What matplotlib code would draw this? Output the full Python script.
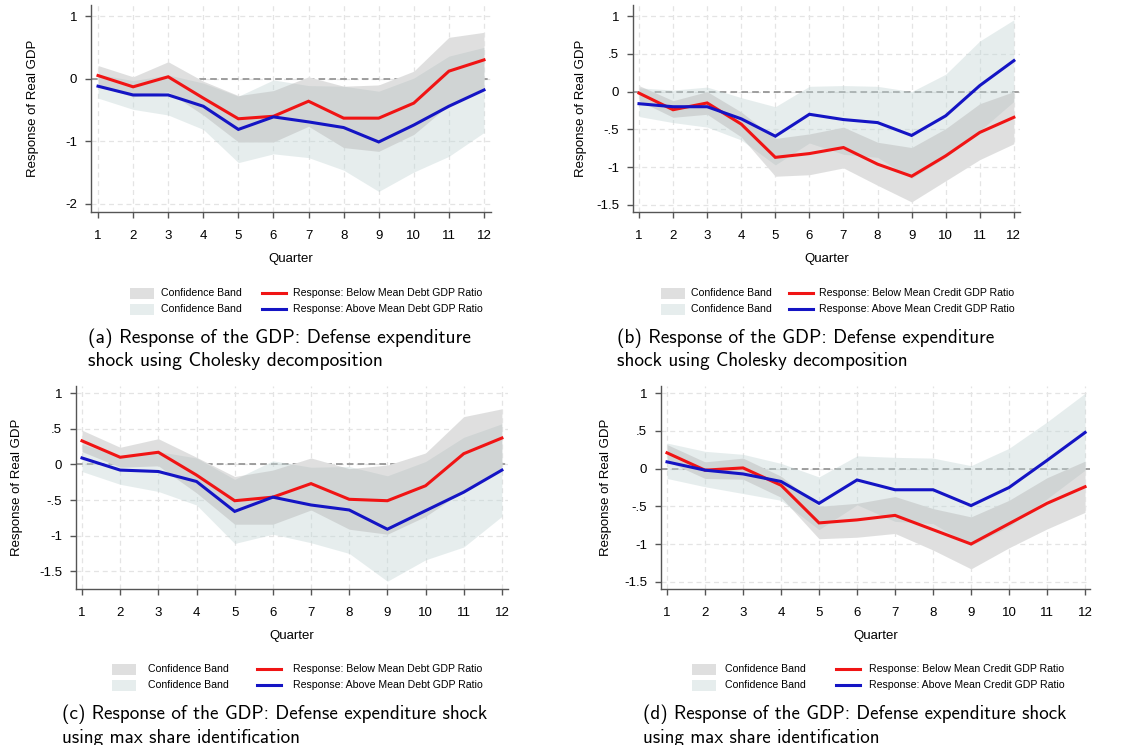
import matplotlib
matplotlib.use("Agg")
import matplotlib.pyplot as plt
from matplotlib.patches import Rectangle
from matplotlib.lines import Line2D
import numpy as np

quarters = np.arange(1, 13)

# (a) debt split, Cholesky
a_below = [0.05, -0.13, 0.03, -0.31, -0.64, -0.60, -0.36, -0.63, -0.63, -0.39, 0.12, 0.30]
a_above = [-0.12, -0.26, -0.26, -0.44, -0.81, -0.61, -0.69, -0.78, -1.01, -0.74, -0.44, -0.18]
a_below_hi = [0.21, 0.03, 0.27, -0.04, -0.27, -0.19, 0.03, -0.12, -0.10, 0.12, 0.66, 0.74]
a_below_lo = [-0.11, -0.29, -0.21, -0.58, -1.01, -1.01, -0.76, -1.10, -1.16, -0.89, -0.42, -0.14]
a_above_hi = [0.07, -0.03, 0.06, -0.07, -0.28, -0.02, -0.11, -0.12, -0.20, 0.01, 0.36, 0.50]
a_above_lo = [-0.31, -0.49, -0.58, -0.81, -1.34, -1.20, -1.26, -1.46, -1.80, -1.49, -1.24, -0.86]

# (b) credit split, Cholesky
b_below = [-0.02, -0.24, -0.15, -0.43, -0.87, -0.82, -0.74, -0.96, -1.12, -0.85, -0.54, -0.34]
b_above = [-0.16, -0.20, -0.20, -0.36, -0.59, -0.30, -0.37, -0.41, -0.58, -0.32, 0.08, 0.41]
b_below_hi = [0.08, -0.12, 0.00, -0.27, -0.62, -0.56, -0.47, -0.67, -0.74, -0.49, -0.16, 0.00]
b_below_lo = [-0.12, -0.34, -0.30, -0.60, -1.12, -1.10, -1.01, -1.24, -1.46, -1.18, -0.90, -0.69]
b_above_hi = [0.05, 0.02, 0.06, -0.08, -0.20, 0.07, 0.08, 0.07, 0.00, 0.23, 0.67, 0.95]
b_above_lo = [-0.33, -0.41, -0.47, -0.64, -0.97, -0.68, -0.83, -0.87, -1.15, -0.87, -0.52, -0.13]

# (c) debt split, max share
c_below = [0.33, 0.10, 0.17, -0.15, -0.51, -0.46, -0.27, -0.49, -0.51, -0.30, 0.15, 0.37]
c_above = [0.09, -0.08, -0.10, -0.24, -0.66, -0.46, -0.57, -0.64, -0.91, -0.65, -0.39, -0.08]
c_below_hi = [0.48, 0.24, 0.36, 0.10, -0.17, -0.08, 0.09, -0.06, -0.01, 0.16, 0.67, 0.78]
c_below_lo = [0.18, -0.04, -0.02, -0.40, -0.84, -0.84, -0.64, -0.91, -0.98, -0.73, -0.37, -0.04]
c_above_hi = [0.28, 0.12, 0.18, 0.09, -0.21, 0.05, -0.04, -0.03, -0.16, 0.04, 0.38, 0.57]
c_above_lo = [-0.10, -0.28, -0.38, -0.57, -1.11, -0.98, -1.10, -1.25, -1.64, -1.34, -1.16, -0.73]

# (d) credit split, max share
d_below = [0.21, -0.02, 0.01, -0.22, -0.72, -0.68, -0.62, -0.81, -1.00, -0.73, -0.46, -0.24]
d_above = [0.09, -0.02, -0.07, -0.17, -0.46, -0.15, -0.28, -0.28, -0.49, -0.25, 0.11, 0.48]
d_below_hi = [0.32, 0.09, 0.14, -0.10, -0.50, -0.46, -0.37, -0.53, -0.64, -0.42, -0.12, 0.10]
d_below_lo = [0.10, -0.13, -0.14, -0.38, -0.93, -0.91, -0.86, -1.08, -1.33, -1.05, -0.80, -0.58]
d_above_hi = [0.34, 0.23, 0.19, 0.07, -0.11, 0.17, 0.15, 0.14, 0.04, 0.27, 0.62, 1.00]
d_above_lo = [-0.13, -0.24, -0.33, -0.42, -0.81, -0.48, -0.70, -0.73, -1.02, -0.77, -0.40, -0.02]

ticks_a = [1, 0, -1, -2]
ticks_a_labels = ["1", "0", "-1", "-2"]
ticks_half = [1, 0.5, 0, -0.5, -1, -1.5]
ticks_half_labels = ["1", ".5", "0", "-.5", "-1", "-1.5"]

W, H = 1134, 745
RED = "#f01414"
BLUE = "#1414c4"
GRAY_BAND = (0.68, 0.68, 0.68, 0.38)
BLUE_BAND = (0.77, 0.84, 0.84, 0.42)
AXCOL = "#555555"
SANS = "Liberation Sans"


def fx(x):
    return x / W


def fy(y):
    return 1 - y / H


fig = plt.figure(figsize=(W / 100, H / 100), dpi=100)

panels = [
    dict(data=(a_below, a_above, a_below_lo, a_below_hi, a_above_lo, a_above_hi),
         box=(91, 5, 491, 212), xlim=(0.80, 12.2), ylim=(-2.128, 1.176),
         yt=(ticks_a, ticks_a_labels), word="Debt",
         ylab_x=33, xlab_y=259,
         leg=(130, 161, 262, 293, 293, 309),
         cap=(88, 338, 361, 14.1, ["(a) Response of the GDP: Defense expenditure",
                                   "shock using Cholesky decomposition"])),
    dict(data=(b_below, b_above, b_below_lo, b_below_hi, b_above_lo, b_above_hi),
         box=(633, 5, 1020, 212), xlim=(0.824, 12.18), ylim=(-1.593, 1.146),
         yt=(ticks_half, ticks_half_labels), word="Credit",
         ylab_x=581, xlab_y=259,
         leg=(661, 691, 789, 819, 293, 309),
         cap=(617, 338, 361, 13.9, ["(b) Response of the GDP: Defense expenditure",
                                    "shock using Cholesky decomposition"])),
    dict(data=(c_below, c_above, c_below_lo, c_below_hi, c_above_lo, c_above_hi),
         box=(76, 386, 508, 589), xlim=(0.843, 12.16), ylim=(-1.749, 1.10),
         yt=(ticks_half, ticks_half_labels), word="Debt",
         ylab_x=17, xlab_y=636,
         leg=(112, 148, 257, 293, 669, 685),
         cap=(62, 714, 738, 13.8, ["(c) Response of the GDP: Defense expenditure shock",
                                   "using max share identification"])),
    dict(data=(d_below, d_above, d_below_lo, d_below_hi, d_above_lo, d_above_hi),
         box=(661, 386, 1090, 589), xlim=(0.842, 12.13), ylim=(-1.597, 1.097),
         yt=(ticks_half, ticks_half_labels), word="Credit",
         ylab_x=606, xlab_y=636,
         leg=(692, 725, 836, 869, 669, 685),
         cap=(643, 714, 738, 13.7, ["(d) Response of the GDP: Defense expenditure shock",
                                    "using max share identification"])),
]

for p in panels:
    below, above, below_lo, below_hi, above_lo, above_hi = p["data"]
    l, t, r, b = p["box"]
    ax = fig.add_axes([fx(l), fy(b), (r - l) / W, (b - t) / H])
    ax.set_axisbelow(True)
    ax.grid(True, color="#e4e4e4", linestyle=(0, (4, 3)), linewidth=0.9)

    # zero line sits under the below-mean band, so blank that region first
    ax.axhline(0, color="#8f8f8f", linestyle=(0, (4, 2.5)), linewidth=1.2, zorder=1.0)
    ax.fill_between(quarters, below_lo, below_hi, color="white", lw=0, zorder=1.1)
    ax.fill_between(quarters, above_lo, above_hi, color=BLUE_BAND, lw=0, zorder=1.2)
    ax.fill_between(quarters, below_lo, below_hi, color=GRAY_BAND, lw=0, zorder=1.3)

    ax.plot(quarters, below, color=RED, lw=2.2, zorder=3, solid_joinstyle="miter")
    ax.plot(quarters, above, color=BLUE, lw=2.2, zorder=3, solid_joinstyle="miter")

    ax.set_xlim(*p["xlim"])
    ax.set_ylim(*p["ylim"])
    ax.set_xticks(quarters)
    ax.set_xticklabels([str(q) for q in quarters], fontsize=9.5, family=SANS)
    ax.set_yticks(p["yt"][0])
    ax.set_yticklabels(p["yt"][1], fontsize=9.5, family=SANS)
    ax.tick_params(direction="out", length=4, width=1, color=AXCOL, pad=6)
    ax.tick_params(axis="x", pad=9)
    for s in ("top", "right"):
        ax.spines[s].set_visible(False)
    for s in ("left", "bottom"):
        ax.spines[s].set_color(AXCOL)
        ax.spines[s].set_linewidth(1)

    fig.text(fx((l + r) / 2), fy(p["xlab_y"]), "Quarter", fontsize=9.5, family=SANS,
             ha="center", va="center")
    fig.text(fx(p["ylab_x"]), fy((t + b) / 2), "Response of Real GDP", fontsize=9.5,
             family=SANS, rotation=90, ha="center", va="center")

    # legend block
    px0, tx0, lx0, tx1, row1, row2 = p["leg"]
    for row, band in ((row1, GRAY_BAND), (row2, BLUE_BAND)):
        fig.add_artist(Rectangle((fx(px0), fy(row + 5.5)), 24 / W, 11 / H,
                                 transform=fig.transFigure, color=band, lw=0))
        fig.text(fx(tx0), fy(row), "Confidence Band", fontsize=7.6, family=SANS,
                 ha="left", va="center")
    for row, col, side in ((row1, RED, "Below"), (row2, BLUE, "Above")):
        fig.add_artist(Line2D([fx(lx0), fx(lx0 + 24)], [fy(row), fy(row)],
                              transform=fig.transFigure, color=col, lw=2.2))
        fig.text(fx(tx1), fy(row), f"Response: {side} Mean {p['word']} GDP Ratio",
                 fontsize=7.6, family=SANS, ha="left", va="center")

    cx, cy1, cy2, csize, lines = p["cap"]
    fig.text(fx(cx), fy(cy1), lines[0], fontsize=csize, family="cmss10", ha="left", va="center")
    fig.text(fx(cx), fy(cy2), lines[1], fontsize=csize, family="cmss10", ha="left", va="center")

fig.savefig("out.png", dpi=100)
